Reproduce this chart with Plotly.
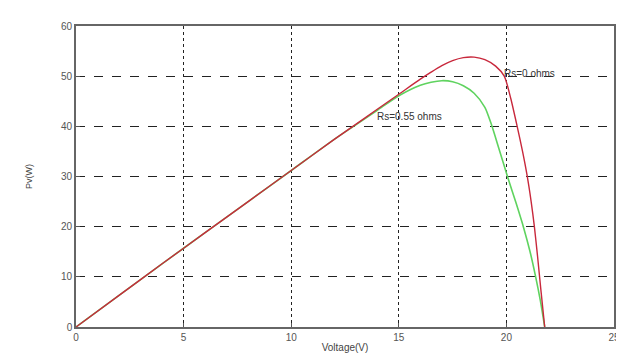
import plotly.graph_objects as go

# Rs = 0 ohms (red)
v_rs0 = [0, 2, 4, 6, 8, 10, 12, 13, 14, 15, 16, 16.5, 17, 17.5, 18, 18.5, 19, 19.5, 19.9,
         20.2, 20.5, 20.75, 20.95, 21.15, 21.3, 21.45, 21.6, 21.78]
p_rs0 = [0, 6.3, 12.6, 18.8, 25.0, 31.2, 37.4, 40.4, 43.4, 46.4, 49.4, 50.8, 52.1, 53.1, 53.7, 53.8,
         53.3, 52.0, 50.0, 45.6, 40.0, 35.0, 30.5, 25.0, 20.0, 14.0, 7.5, 0]

# Rs = 0.55 ohms (green)
v_rs055 = [0, 2, 4, 6, 8, 10, 12, 13, 14, 15, 16, 16.5, 17, 17.5, 18, 18.5, 19, 19.3,
           19.65, 20.05, 20.45, 20.8, 21.1, 21.35, 21.58, 21.78]
p_rs055 = [0, 6.3, 12.6, 18.8, 25.0, 31.2, 37.4, 40.3, 43.2, 46.1, 48.2, 48.8, 49.1, 48.9, 48.1,
           46.6, 43.8, 40.4, 35.6, 30.0, 24.7, 19.8, 15.0, 10.2, 5.2, 0]

x_ticks = [0, 5, 10, 15, 20, 25]
y_ticks = [0, 10, 20, 30, 40, 50, 60]

labels = ["Rs=0 ohms", "Rs=0.55 ohms"]
label_v = [19.8, 13.9]
label_p = [50.6, 41.9]

font = "Liberation Sans, Arial, sans-serif"

fig = go.Figure()
fig.add_trace(go.Scatter(x=v_rs055, y=p_rs055, mode="lines",
                         line=dict(color="#5fd35f", width=1.6, shape="spline", smoothing=0.7),
                         showlegend=False))
fig.add_trace(go.Scatter(x=v_rs0, y=p_rs0, mode="lines",
                         line=dict(color="#c8283c", width=1.4, shape="spline", smoothing=0.7),
                         showlegend=False))

for t, xv, yv in zip(labels, label_v, label_p):
    fig.add_annotation(x=xv, y=yv, xref="x", yref="y", text=t, showarrow=False,
                       xanchor="left", yanchor="middle",
                       font=dict(family=font, size=10, color="#333333"))

fig.add_annotation(x=(20 - 68) / 543, y=0.5, xref="paper", yref="paper",
                   text="Pv(W)", textangle=-90, showarrow=False,
                   xanchor="center", yanchor="middle",
                   font=dict(family=font, size=9, color="#444444"))

axis_common = dict(
    showgrid=True, gridcolor="#222222", gridwidth=1,
    showline=True, linecolor="#666666", linewidth=1.6, mirror=True,
    ticks="inside", ticklen=4, tickcolor="#555555",
    zeroline=False,
    tickfont=dict(family=font, size=10, color="#555555"),
)

fig.update_xaxes(range=[0, 25], tickvals=x_ticks, ticktext=[str(v) for v in x_ticks],
                 griddash="dot",
                 title=dict(text="Voltage(V)", standoff=2,
                            font=dict(family=font, size=10, color="#444444")),
                 **axis_common)
fig.update_yaxes(range=[0, 60], tickvals=y_ticks, ticktext=[str(v) for v in y_ticks],
                 griddash="dash", **axis_common)

fig.update_layout(
    width=624, height=356,
    margin=dict(l=68, r=13, t=13, b=30),
    paper_bgcolor="white", plot_bgcolor="white",
    showlegend=False,
)

fig.write_html("out.html")
